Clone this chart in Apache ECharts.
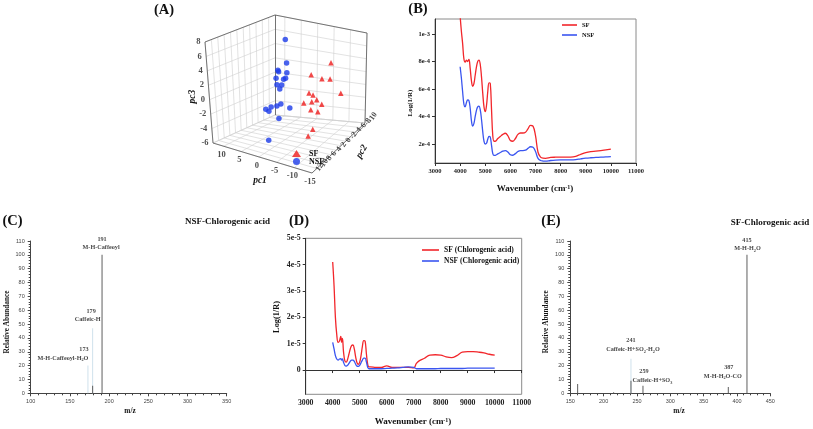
<!DOCTYPE html>
<html><head><meta charset="utf-8">
<script src="https://cdn.jsdelivr.net/npm/echarts@6/dist/echarts.min.js"></script>
<style>html,body{margin:0;padding:0;background:#fff}#c{width:813px;height:429px}</style>
</head><body><div id="c"></div>
<script>
// ===== Panel A: PCA scores =====
const nsfPc1 = [0.0, -0.2, 2.4, 2.2, -0.2, 3.0, 0.2, 0.8, 1.4, 2.8, 2.0, 1.8, 3.0, 4.7, 6.3, 5.4, -0.8, 2.5, 0.4];
const nsfPc2 = [1, 1, 1, 1, 1, 1, 1, 1, 1, 1, 1, 1, 1, 1, 1, 1, 1, 1, 7.6];
const nsfPc3 = [7.9, 4.6, 3.3, 3.1, 3.2, 2.1, 2.4, 2.2, 1.3, 1.2, 0.7, -1.4, -1.8, -2.1, -2.6, -2.8, -1.7, -3.5, -4.8];
const sfPc1 = [-9.6, -3.7, -6.9, -9.3, -12.5, -3.0, -4.2, -5.3, -1.4, -3.8, -6.8, -3.5, -5.6, -10.8, -9.4];
const sfPc2 = [-3.4, -3.4, -3.4, -3.4, -3.4, -3.4, -3.4, -3.4, -3.4, -3.4, -3.4, -3.4, -3.4, 5.4, 5.4];
const sfPc3 = [4.6, 2.3, 2.0, 2.2, 0.4, -0.4, -0.6, -1.2, -2.0, -1.6, -1.7, -2.8, -2.9, -2.5, -3.6];
const pc1Range = [13, -15];
const pc2Range = [12, -10];
const pc3Range = [-6, 8];
const pc1Ticks = [10, 5, 0, -5, -10, -15];
const pc2Ticks = [12, 10, 8, 6, 4, 2, 0, -2, -4, -6, -8, -10];
const pc3Ticks = [8, 6, 4, 2, 0, -2, -4, -6];

// ===== Panel B: NIR spectra (Log(1/R)) =====
const bWave = [4000,4050,4100,4150,4200,4250,4300,4350,4400,4450,4500,4550,4600,4650,4700,4750,4800,4850,4900,4950,5000,5050,5100,5150,5200,5250,5300,5350,5400,5500,5600,5700,5800,5900,6000,6100,6200,6300,6400,6500,6600,6700,6800,6900,7000,7100,7200,7300,7400,7600,7800,8000,8200,8400,8600,8800,9000,9200,9400,9600,9800,10000];
const bSF = [11.3,10.2,9.3,8.2,7.95,8.1,8.0,8.15,7.5,6.6,6.2,6.4,7.0,7.6,8.0,8.1,7.8,6.9,5.7,4.7,4.35,4.8,5.8,6.45,6.4,4.5,2.6,2.2,2.2,2.4,2.55,2.7,2.78,2.6,2.25,2.2,2.4,2.7,2.8,2.8,2.85,3.1,3.35,3.3,2.6,1.4,1.05,0.97,0.96,1.02,1.04,1.05,1.05,1.05,1.1,1.25,1.38,1.45,1.48,1.52,1.57,1.62].map(v => v * 1e-4);
const bNSF = [7.62,6.8,5.8,4.9,4.7,5.0,5.2,5.15,4.6,3.7,3.3,3.5,4.0,4.45,4.7,4.75,4.5,3.8,2.9,2.2,2.0,2.05,2.35,2.55,2.5,1.9,1.3,1.17,1.18,1.28,1.38,1.48,1.52,1.42,1.22,1.18,1.3,1.45,1.52,1.52,1.55,1.68,1.8,1.76,1.45,0.95,0.8,0.76,0.75,0.8,0.83,0.84,0.84,0.84,0.86,0.92,0.97,1.0,1.02,1.04,1.06,1.08].map(v => v * 1e-4);
const bYTicks = [2e-4, 4e-4, 6e-4, 8e-4, 1e-3];
const bYTickLabels = ['2e-4', '4e-4', '6e-4', '8e-4', '1e-3'];

// ===== Panel C: MS/MS of chlorogenic acid in NSF =====
const cLightMz = [173, 179];
const cLightAb = [20, 47];
const cDarkMz = [179, 191];
const cDarkAb = [5.5, 100];
const cAnnotMz = [191, 179, 173];
const cAnnotAb = [100, 47, 20];
const cAnnotName = ['M-H-Caffeoyl', 'Caffeic-H', 'M-H-Caffeoyl-H{s|2}O'];

// ===== Panel D: NIR spectra of chlorogenic acid =====
const dWave = [4000,4050,4100,4150,4200,4250,4300,4330,4360,4400,4450,4500,4550,4600,4650,4700,4750,4800,4850,4900,4950,5000,5050,5100,5150,5200,5250,5300,5350,5400,5600,5800,6000,6200,6400,6600,6800,7000,7100,7200,7400,7600,7800,8000,8200,8400,8600,8800,9000,9200,9400,9600,9800,10000];
const dSF = [4.1,3.2,2.0,1.35,1.05,1.1,1.28,1.05,1.2,0.7,0.35,0.3,0.4,0.6,0.8,0.93,0.95,0.8,0.5,0.28,0.22,0.3,0.55,0.9,1.12,1.1,0.6,0.2,0.12,0.12,0.1,0.1,0.16,0.1,0.1,0.1,0.1,0.08,0.25,0.35,0.45,0.57,0.58,0.57,0.5,0.47,0.55,0.68,0.7,0.7,0.68,0.65,0.6,0.57].map(v => v * 1e-5);
const dNSF = [1.05,0.8,0.55,0.42,0.38,0.42,0.43,0.38,0.42,0.3,0.18,0.15,0.18,0.25,0.33,0.38,0.38,0.33,0.22,0.15,0.14,0.18,0.28,0.38,0.45,0.45,0.3,0.1,0.05,0.05,0.05,0.05,0.06,0.07,0.08,0.1,0.12,0.1,0.05,0.05,0.05,0.05,0.05,0.06,0.06,0.06,0.06,0.06,0.07,0.07,0.07,0.07,0.07,0.07].map(v => v * 1e-5);
const dYTicks = [0, 1e-5, 2e-5, 3e-5, 4e-5, 5e-5];
const dYTickLabels = ['0', '1e-5', '2e-5', '3e-5', '4e-5', '5e-5'];

// ===== Panel E: MS/MS of chlorogenic acid in SF =====
const eLightMz = [241];
const eLightAb = [25];
const eDarkMz = [161, 215, 241, 259, 387, 415];
const eDarkAb = [6.7, 0.8, 9, 5.5, 4.6, 100];
const eAnnotMz = [415, 387, 259, 241];
const eAnnotAb = [100, 4.6, 5.5, 25];
const eAnnotName = ['M-H-H{s|2}O', 'M-H-H{s|2}O-CO', 'Caffeic-H+SO{s|3}', 'Caffeic-H+SO{s|2}-H{s|2}O'];

// ---------- styles ----------
const SERIF = 'Liberation Serif';
const SANS = 'Liberation Sans';
const RED = '#f2262b';
const BLUE = '#3a55f0';
const cNumOffset = [[0, -15.5], [-1.5, -17], [-4, -16.5]];
const cNameOffset = [[-1, -7], [-5, -8.5], [-25, -7.5]];
const eNumOffset = [[0, -14.5], [0.5, -20], [1, -14.5], [0, -18.3]];
const eNameOffset = [[0.5, -6], [-5.5, -11], [9.5, -5], [2, -9]];

// 3D view for panel A: normalized positions of the box corners
// order: (pc1 max, pc2 max), (pc1 min, pc2 max), (pc1 min, pc2 min), (pc1 max, pc2 min)
const VIEW = {
  floor: [[0.165, 0.715], [0.66, 0.865], [0.925, 0.615], [0.475, 0.575]],
  top: [[0.125, 0.21], [0.64, 0.34], [0.935, 0.165], [0.475, 0.075]]
};
function proj(p1, p2, p3) {
  const u = (pc1Range[0] - p1) / (pc1Range[0] - pc1Range[1]);
  const v = (pc2Range[0] - p2) / (pc2Range[0] - pc2Range[1]);
  const w = (p3 - pc3Range[0]) / (pc3Range[1] - pc3Range[0]);
  const bil = c => [0, 1].map(k => (1 - u) * (1 - v) * c[0][k] + u * (1 - v) * c[1][k] + u * v * c[2][k] + (1 - u) * v * c[3][k]);
  const f = bil(VIEW.floor), t = bil(VIEW.top);
  return [f[0] + w * (t[0] - f[0]), f[1] + w * (t[1] - f[1])];
}
const P1X = pc1Range[0], P1N = pc1Range[1], P2X = pc2Range[0], P2N = pc2Range[1], P3N = pc3Range[0], P3X = pc3Range[1];
const gridSegs = [];
pc2Ticks.forEach(t => gridSegs.push([proj(P1X, t, P3N), proj(P1X, t, P3X)]));
pc3Ticks.forEach(t => gridSegs.push([proj(P1X, P2X, t), proj(P1X, P2N, t)]));
pc1Ticks.forEach(t => gridSegs.push([proj(t, P2N, P3N), proj(t, P2N, P3X)]));
pc3Ticks.forEach(t => gridSegs.push([proj(P1X, P2N, t), proj(P1N, P2N, t)]));
pc1Ticks.forEach(t => gridSegs.push([proj(t, P2X, P3N), proj(t, P2N, P3N)]));
pc2Ticks.forEach(t => gridSegs.push([proj(P1X, t, P3N), proj(P1N, t, P3N)]));
gridSegs.push([proj(P1X, P2X, P3N), proj(P1X, P2N, P3N)]);
gridSegs.push([proj(P1X, P2N, P3N), proj(P1N, P2N, P3N)]);
const edgeSegs = [
  [proj(P1X, P2X, P3N), proj(P1X, P2X, P3X)],
  [proj(P1X, P2X, P3X), proj(P1X, P2N, P3X)],
  [proj(P1X, P2N, P3N), proj(P1X, P2N, P3X)],
  [proj(P1X, P2N, P3X), proj(P1N, P2N, P3X)],
  [proj(P1N, P2N, P3N), proj(P1N, P2N, P3X)],
  [proj(P1X, P2X, P3N), proj(P1N, P2X, P3N)],
  [proj(P1N, P2X, P3N), proj(P1N, P2N, P3N)]
];

const zip = (a, b) => a.map((x, i) => [x, b[i]]);
const tickFmt = (ticks, labels) => v => { const i = ticks.findIndex(t => Math.abs(t - v) < 1e-12); return i >= 0 ? labels[i] : ''; };
const noEmph = { disabled: true };

function specAxisX(gi) {
  return {
    type: 'value', gridIndex: gi, min: 3000, max: 11000, interval: 1000,
    axisLine: { lineStyle: { color: '#333', width: 1 } },
    axisTick: { show: true, length: 3, lineStyle: { color: '#333' } },
    axisLabel: { formatter: v => String(v), fontFamily: SERIF, fontWeight: 'bold', fontSize: gi === 1 ? 6.5 : 7.8, color: '#222', margin: 5 },
    splitLine: { show: false }
  };
}
function msAxisX(gi, min, max) {
  return {
    type: 'value', gridIndex: gi, min: min, max: max, interval: 50,
    axisLine: { lineStyle: { color: '#444', width: 1 } },
    axisTick: { show: true, length: 3, lineStyle: { color: '#444' } },
    minorTick: { show: true, splitNumber: 5, length: 2, lineStyle: { color: '#444' } },
    axisLabel: { formatter: v => String(v), fontFamily: SANS, fontSize: 5.5, color: '#444', margin: 5 },
    splitLine: { show: false }
  };
}
function msAxisY(gi) {
  return {
    type: 'value', gridIndex: gi, min: 0, max: 110, interval: 10,
    axisLine: { show: true, lineStyle: { color: '#444', width: 1 } },
    axisTick: { show: true, length: 3, lineStyle: { color: '#444' } },
    minorTick: { show: true, splitNumber: 5, length: 2, lineStyle: { color: '#444' } },
    axisLabel: { fontFamily: SANS, fontSize: 5.5, color: '#444', margin: 6 },
    splitLine: { show: false }
  };
}
function msSeries(gi, lightMz, lightAb, darkMz, darkAb, annMz, annAb, annName, numOff, nameOff) {
  const lab = { fontFamily: SERIF, fontWeight: 'bold', fontSize: 6.2, color: '#111', lineHeight: 8,
    rich: { s: { fontFamily: SERIF, fontWeight: 'bold', fontSize: 4.3, color: '#111', verticalAlign: 'bottom' } } };
  return [
    { type: 'bar', xAxisIndex: gi, yAxisIndex: gi, data: zip(lightMz, lightAb), barWidth: 1, barGap: '-100%',
      itemStyle: { color: '#cfe1ec' }, emphasis: noEmph, silent: true },
    { type: 'bar', xAxisIndex: gi, yAxisIndex: gi, data: zip(darkMz, darkAb), barWidth: 1, barGap: '-100%',
      itemStyle: { color: '#5e5e5e' }, emphasis: noEmph, silent: true },
    { type: 'scatter', xAxisIndex: gi, yAxisIndex: gi, symbolSize: 1, itemStyle: { color: 'transparent' }, silent: true, emphasis: noEmph,
      data: annMz.map((m, i) => ({ value: [m, annAb[i]], name: String(m),
        label: { show: true, position: 'inside', offset: numOff[i], formatter: '{b}', ...lab } })) },
    { type: 'scatter', xAxisIndex: gi, yAxisIndex: gi, symbolSize: 1, itemStyle: { color: 'transparent' }, silent: true, emphasis: noEmph,
      data: annMz.map((m, i) => ({ value: [m, annAb[i]], name: annName[i],
        label: { show: true, position: 'inside', offset: nameOff[i], formatter: () => annName[i], ...lab } })) }
  ];
}
function tickLabelSeries(items, labelOpt) {
  return { type: 'scatter', xAxisIndex: 0, yAxisIndex: 0, symbolSize: 1, itemStyle: { color: 'transparent' }, silent: true, emphasis: noEmph,
    data: items.map(it => ({ value: it.p, name: it.t })),
    label: Object.assign({ show: true, formatter: '{b}', fontFamily: SERIF, fontWeight: 'bold', fontSize: 8, color: '#222' }, labelOpt) };
}
const gText = (x, y, text, size, opts) => Object.assign({ type: 'text', x: x, y: y, silent: true,
  style: Object.assign({ text: text, fontFamily: SERIF, fontWeight: 'bold', fontSize: size, fill: '#111', align: 'center', verticalAlign: 'middle' }, (opts && opts.style) || {}) },
  opts && opts.rotation !== undefined ? { rotation: opts.rotation } : {});
const waveRich = { a: { fontFamily: SERIF, fontWeight: 'bold', fontSize: 9, fill: '#111' }, s: { fontFamily: SERIF, fontWeight: 'bold', fontSize: 6, fill: '#111', verticalAlign: 'top' } };

const option = {
  animation: false,
  backgroundColor: '#fff',
  grid: [
    { left: 180, top: 0, width: 200, height: 200 },
    { left: 435, top: 19, width: 201, height: 144, show: true, borderColor: '#8a8a8a', borderWidth: 1 },
    { left: 30.7, top: 241, width: 196, height: 152.3 },
    { left: 305.7, top: 238.3, width: 216, height: 156, show: true, borderColor: '#8a8a8a', borderWidth: 1 },
    { left: 570.3, top: 241, width: 200, height: 152.3 }
  ],
  xAxis: [
    { type: 'value', gridIndex: 0, min: 0, max: 1, show: false },
    specAxisX(1),
    msAxisX(2, 100, 350),
    specAxisX(3),
    msAxisX(4, 150, 450)
  ],
  yAxis: [
    { type: 'value', gridIndex: 0, min: 0, max: 1, inverse: true, show: false },
    { type: 'value', gridIndex: 1, min: 0.618e-4, max: 1.109e-3,
      axisLine: { show: true, lineStyle: { color: '#333' } },
      axisTick: { show: true, length: 3, customValues: bYTicks, lineStyle: { color: '#333' } },
      axisLabel: { customValues: bYTicks, formatter: tickFmt(bYTicks, bYTickLabels), fontFamily: SERIF, fontWeight: 'bold', fontSize: 6.5, color: '#222', margin: 5 },
      splitLine: { show: false } },
    msAxisY(2),
    { type: 'value', gridIndex: 3, min: -0.92e-5, max: 5e-5,
      axisLine: { show: true, lineStyle: { color: '#333' } },
      axisTick: { show: true, length: 3, customValues: dYTicks, lineStyle: { color: '#333' } },
      axisLabel: { customValues: dYTicks, formatter: tickFmt(dYTicks, dYTickLabels), fontFamily: SERIF, fontWeight: 'bold', fontSize: 7.8, color: '#222', margin: 5 },
      splitLine: { show: false } },
    msAxisY(4)
  ],
  legend: [
    { data: ['SF', 'NSF'], orient: 'vertical', left: 562, top: 21, padding: 0, icon: 'rect', itemWidth: 15, itemHeight: 1.6, itemGap: 2,
      textStyle: { fontFamily: SERIF, fontWeight: 'bold', fontSize: 6.5, color: '#111', lineHeight: 8 }, selectedMode: false },
    { data: ['SF (Chlorogenic acid)', 'NSF (Chlorogenic acid)'], orient: 'vertical', left: 422, top: 245.5, padding: 0, icon: 'rect', itemWidth: 17, itemHeight: 1.6, itemGap: 2,
      textStyle: { fontFamily: SERIF, fontWeight: 'bold', fontSize: 7.5, color: '#111', lineHeight: 9 }, selectedMode: false },
    { data: ['SF ', 'NSF '], orient: 'vertical', left: 292, top: 149.5, padding: 0, itemWidth: 9, itemHeight: 7, itemGap: 0,
      textStyle: { fontFamily: SERIF, fontWeight: 'bold', fontSize: 8, color: '#111', lineHeight: 8, padding: [0, 0, 0, 3] }, selectedMode: false }
  ],
  series: [
    // Panel A
    { type: 'lines', coordinateSystem: 'cartesian2d', xAxisIndex: 0, yAxisIndex: 0, silent: true,
      data: gridSegs.map(s => ({ coords: s })), lineStyle: { color: '#cfcfcf', width: 0.6, opacity: 1 } },
    { type: 'lines', coordinateSystem: 'cartesian2d', xAxisIndex: 0, yAxisIndex: 0, silent: true,
      data: edgeSegs.map(s => ({ coords: s })), lineStyle: { color: '#666', width: 0.9, opacity: 1 } },
    { name: 'NSF ', type: 'scatter', xAxisIndex: 0, yAxisIndex: 0, symbol: 'circle', symbolSize: 5.5,
      itemStyle: { color: '#1c3be8' }, emphasis: noEmph,
      data: nsfPc1.map((p, i) => proj(p, nsfPc2[i], nsfPc3[i])) },
    { name: 'SF ', type: 'scatter', xAxisIndex: 0, yAxisIndex: 0, symbol: 'triangle', symbolSize: 5.5,
      itemStyle: { color: '#ee1c1c' }, emphasis: noEmph,
      data: sfPc1.map((p, i) => proj(p, sfPc2[i], sfPc3[i])) },
    tickLabelSeries(pc3Ticks.map(t => ({ p: proj(P1X, P2X, t), t: String(t) })), { position: 'left', distance: 4, fontSize: 8.5 }),
    tickLabelSeries(pc1Ticks.map(t => ({ p: proj(t, P2X, P3N), t: String(t) })), { position: 'inside', offset: [-2, 8.5], fontSize: 8.5 }),
    tickLabelSeries(pc2Ticks.map(t => ({ p: proj(P1N, t, P3N), t: String(t) })), { position: 'inside', offset: [9, 3], rotate: 55, fontSize: 8 }),
    // Panel B
    { name: 'SF', type: 'line', xAxisIndex: 1, yAxisIndex: 1, data: zip(bWave, bSF), symbol: 'none', smooth: 0.4,
      lineStyle: { color: RED, width: 1.3 }, itemStyle: { color: RED }, emphasis: noEmph, silent: true },
    { name: 'NSF', type: 'line', xAxisIndex: 1, yAxisIndex: 1, data: zip(bWave, bNSF), symbol: 'none', smooth: 0.4,
      lineStyle: { color: BLUE, width: 1.3 }, itemStyle: { color: BLUE }, emphasis: noEmph, silent: true },
    // Panel C
    ...msSeries(2, cLightMz, cLightAb, cDarkMz, cDarkAb, cAnnotMz, cAnnotAb, cAnnotName, cNumOffset, cNameOffset),
    // Panel D
    { name: 'SF (Chlorogenic acid)', type: 'line', xAxisIndex: 3, yAxisIndex: 3, data: zip(dWave, dSF), symbol: 'none', smooth: 0.4,
      lineStyle: { color: RED, width: 1.3 }, itemStyle: { color: RED }, emphasis: noEmph, silent: true },
    { name: 'NSF (Chlorogenic acid)', type: 'line', xAxisIndex: 3, yAxisIndex: 3, data: zip(dWave, dNSF), symbol: 'none', smooth: 0.4,
      lineStyle: { color: BLUE, width: 1.3 }, itemStyle: { color: BLUE }, emphasis: noEmph, silent: true },
    // Panel E
    ...msSeries(4, eLightMz, eLightAb, eDarkMz, eDarkAb, eAnnotMz, eAnnotAb, eAnnotName, eNumOffset, eNameOffset)
  ],
  graphic: [
    gText(164, 10, '(A)', 14.5),
    gText(418, 9.5, '(B)', 14.5),
    gText(12.5, 221, '(C)', 14.5),
    gText(299, 221, '(D)', 14.5),
    gText(551, 221, '(E)', 14.5),
    gText(227.5, 222, 'NSF-Chlorogenic acid', 9),
    gText(770, 222.3, 'SF-Chlorogenic acid', 9),
    gText(410, 103, 'Log(1/R)', 7, { rotation: Math.PI / 2 }),
    gText(277, 317, 'Log(1/R)', 8.3, { rotation: Math.PI / 2 }),
    gText(7, 322, 'Relative Abundance', 7.3, { rotation: Math.PI / 2 }),
    gText(546, 321.7, 'Relative Abundance', 7.3, { rotation: Math.PI / 2 }),
    gText(130, 410.7, 'm/z', 7.3),
    gText(679, 410.7, 'm/z', 7.3),
    gText(535, 189, '{a|Wavenumber (cm}{s|-1}{a|)}', 9, { style: { rich: waveRich } }),
    gText(413, 421.7, '{a|Wavenumber (cm}{s|-1}{a|)}', 9.5, { style: { rich: waveRich } }),
    gText(260, 181, 'pc1', 9.5, { style: { fontStyle: 'italic' } }),
    gText(361.7, 151.7, 'pc2', 9.5, { rotation: Math.PI / 3, style: { fontStyle: 'italic' } }),
    gText(192.7, 96.7, 'pc3', 9.5, { rotation: Math.PI / 2, style: { fontStyle: 'italic' } })
  ]
};
const chart = echarts.init(document.getElementById('c'), null, { renderer: 'canvas' });
chart.setOption(option);
</script>
</body></html>
